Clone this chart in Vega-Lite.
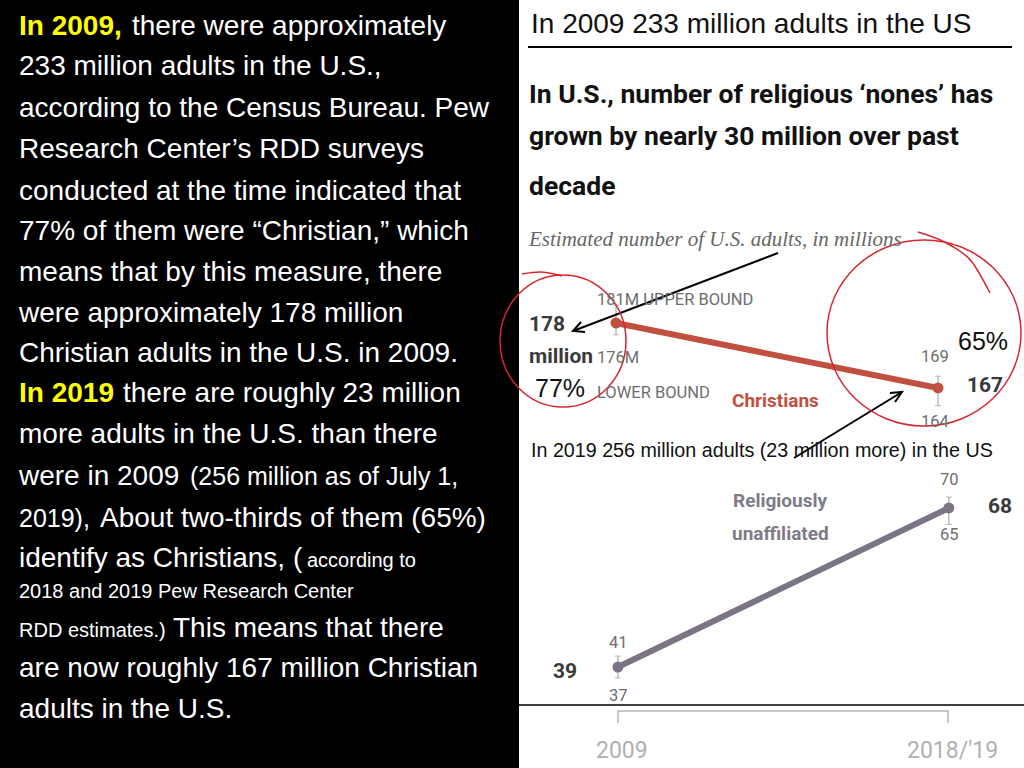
{
  "$schema": "https://vega.github.io/schema/vega-lite/v6.json",
  "width": 1024,
  "height": 768,
  "autosize": {"type": "none"},
  "padding": 0,
  "background": "white",
  "config": {"view": {"stroke": null}},
  "datasets": {
    "panels": [{"x": 0, "x2": 519, "y": 0, "y2": 768}],
    "christians": [
      {"series": "Christians", "year": 2009, "value": 178, "lo": 176, "hi": 181},
      {"series": "Christians", "year": 2019, "value": 167, "lo": 164, "hi": 169}
    ],
    "unaffiliated": [
      {"series": "Religiously unaffiliated", "year": 2009, "value": 39, "lo": 37, "hi": 41},
      {"series": "Religiously unaffiliated", "year": 2019, "value": 68, "lo": 65, "hi": 70}
    ],
    "strokes": [
      {"kind": "black2", "id": "underline", "ord": 1, "x": 528, "y": 47},
      {"kind": "black2", "id": "underline", "ord": 2, "x": 1012, "y": 47},
      {"kind": "black1", "id": "bottom", "ord": 1, "x": 518, "y": 705},
      {"kind": "black1", "id": "bottom", "ord": 2, "x": 1024, "y": 705},
      {"kind": "grey", "id": "bracket", "ord": 1, "x": 618, "y": 723},
      {"kind": "grey", "id": "bracket", "ord": 2, "x": 618, "y": 711},
      {"kind": "grey", "id": "bracket", "ord": 3, "x": 948, "y": 711},
      {"kind": "grey", "id": "bracket", "ord": 4, "x": 948, "y": 723},
      {"kind": "black2", "id": "arrow1", "ord": 1, "x": 778, "y": 253},
      {"kind": "black2", "id": "arrow1", "ord": 2, "x": 573, "y": 331},
      {"kind": "black2", "id": "head1", "ord": 1, "x": 585, "y": 332},
      {"kind": "black2", "id": "head1", "ord": 2, "x": 573, "y": 331},
      {"kind": "black2", "id": "head1", "ord": 3, "x": 581, "y": 322},
      {"kind": "black2", "id": "arrow2", "ord": 1, "x": 794, "y": 458},
      {"kind": "black2", "id": "arrow2", "ord": 2, "x": 902, "y": 392},
      {"kind": "black2", "id": "head2", "ord": 1, "x": 890, "y": 393},
      {"kind": "black2", "id": "head2", "ord": 2, "x": 902, "y": 392},
      {"kind": "black2", "id": "head2", "ord": 3, "x": 895, "y": 402},
      {"kind": "red", "id": "flick1", "ord": 1, "x": 522, "y": 274},
      {"kind": "red", "id": "flick1", "ord": 2, "x": 540, "y": 272},
      {"kind": "red", "id": "flick1", "ord": 3, "x": 562, "y": 276},
      {"kind": "red", "id": "flick2", "ord": 1, "x": 918, "y": 232},
      {"kind": "red", "id": "flick2", "ord": 2, "x": 950, "y": 245},
      {"kind": "red", "id": "flick2", "ord": 3, "x": 972, "y": 262},
      {"kind": "red", "id": "flick2", "ord": 4, "x": 990, "y": 293}
    ],
    "ellipses": [
      {"id": "left", "x": 563, "y": 341},
      {"id": "right", "x": 924, "y": 333}
    ],
    "notes": [
      {"kind": "hl", "x": 19, "y": 35, "text": "In 2009,"},
      {"kind": "body", "x": 132, "y": 35, "text": "there were approximately"},
      {"kind": "body", "x": 19, "y": 75, "text": "233 million adults in the U.S.,"},
      {"kind": "body", "x": 19, "y": 117, "text": "according to the Census Bureau. Pew"},
      {"kind": "body", "x": 19, "y": 158, "text": "Research Center’s RDD surveys"},
      {"kind": "body", "x": 19, "y": 200, "text": "conducted at the time indicated that"},
      {"kind": "body", "x": 19, "y": 240, "text": "77% of them were “Christian,” which"},
      {"kind": "body", "x": 19, "y": 281, "text": "means that by this measure, there"},
      {"kind": "body", "x": 19, "y": 322, "text": "were approximately 178 million"},
      {"kind": "body", "x": 19, "y": 362, "text": "Christian adults in the U.S. in 2009."},
      {"kind": "hl", "x": 19, "y": 402, "text": "In 2019"},
      {"kind": "body", "x": 123, "y": 402, "text": "there are roughly 23 million"},
      {"kind": "body", "x": 19, "y": 443, "text": "more adults in the U.S. than there"},
      {"kind": "body", "x": 19, "y": 485, "text": "were in 2009"},
      {"kind": "mid", "x": 190, "y": 485, "text": "(256 million as of July 1,"},
      {"kind": "mid", "x": 19, "y": 527, "text": "2019),"},
      {"kind": "body", "x": 100, "y": 527, "text": "About two-thirds of them (65%)"},
      {"kind": "body", "x": 19, "y": 567, "text": "identify as Christians, ("},
      {"kind": "small", "x": 307, "y": 567, "text": "according to"},
      {"kind": "small", "x": 19, "y": 598, "text": "2018 and 2019 Pew Research Center"},
      {"kind": "small", "x": 19, "y": 637, "text": "RDD estimates.)"},
      {"kind": "body", "x": 173, "y": 637, "text": "This means that there"},
      {"kind": "body", "x": 19, "y": 677, "text": "are now roughly 167 million Christian"},
      {"kind": "body", "x": 19, "y": 718, "text": "adults in the U.S."},
      {"kind": "header", "x": 531, "y": 33, "text": "In 2009 233 million adults in the US"},
      {"kind": "header2", "x": 531, "y": 457, "text": "In 2019 256 million adults (23 million more) in the US"},
      {"kind": "title", "x": 529, "y": 103, "text": "In U.S., number of religious ‘nones’ has"},
      {"kind": "title", "x": 529, "y": 145, "text": "grown by nearly 30 million over past"},
      {"kind": "title", "x": 529, "y": 195, "text": "decade"},
      {"kind": "subtitle", "x": 529, "y": 246, "text": "Estimated number of U.S. adults, in millions"},
      {"kind": "bound", "x": 597, "y": 305, "text": "181M UPPER BOUND"},
      {"kind": "bound", "x": 597, "y": 363, "text": "176M"},
      {"kind": "bound", "x": 597, "y": 398, "text": "LOWER BOUND"},
      {"kind": "bignum", "x": 529, "y": 331, "text": "178"},
      {"kind": "bignum", "x": 529, "y": 363, "text": "million"},
      {"kind": "bignum", "x": 967, "y": 392, "text": "167"},
      {"kind": "bignum", "x": 988, "y": 513, "text": "68"},
      {"kind": "bignum", "x": 553, "y": 678, "text": "39"},
      {"kind": "pct", "x": 535, "y": 397, "text": "77%"},
      {"kind": "pct", "x": 958, "y": 350, "text": "65%"},
      {"kind": "ci", "x": 921, "y": 362, "text": "169"},
      {"kind": "ci", "x": 921, "y": 427, "text": "164"},
      {"kind": "ci", "x": 940, "y": 485, "text": "70"},
      {"kind": "ci", "x": 940, "y": 540, "text": "65"},
      {"kind": "ci", "x": 609, "y": 648, "text": "41"},
      {"kind": "ci", "x": 609, "y": 701, "text": "37"},
      {"kind": "chr", "x": 732, "y": 407, "text": "Christians"},
      {"kind": "unaff", "x": 733, "y": 507, "text": "Religiously"},
      {"kind": "unaff", "x": 732, "y": 540, "text": "unaffiliated"},
      {"kind": "year", "x": 596, "y": 758, "text": "2009"},
      {"kind": "year", "x": 907, "y": 758, "text": "2018/'19"}
    ]
  },
  "layer": [
    {
      "data": {"name": "panels"},
      "mark": {"type": "rect", "fill": "black"},
      "encoding": {
        "x": {"field": "x", "type": "quantitative", "scale": {"domain": [0, 1024], "nice": false, "zero": false}, "axis": null},
        "x2": {"field": "x2"},
        "y": {"field": "y", "type": "quantitative", "scale": {"domain": [0, 768], "nice": false, "zero": false, "reverse": true}, "axis": null},
        "y2": {"field": "y2"}
      }
    },
    {
      "data": {"name": "christians"},
      "encoding": {
        "x": {"field": "year", "type": "quantitative", "scale": {"domain": [1989.87, 2021.67], "nice": false, "zero": false}, "axis": null}
      },
      "layer": [
        {
          "mark": {"type": "rule", "color": "#9a9a9a", "strokeWidth": 1},
          "encoding": {
            "y": {"field": "lo", "type": "quantitative", "scale": {"domain": [102.69, 232.66], "nice": false, "zero": false}, "axis": null},
            "y2": {"field": "hi"}
          }
        },
        {
          "mark": {"type": "tick", "orient": "horizontal", "color": "#9a9a9a", "size": 6, "thickness": 1},
          "encoding": {"y": {"field": "lo", "type": "quantitative", "axis": null}}
        },
        {
          "mark": {"type": "tick", "orient": "horizontal", "color": "#9a9a9a", "size": 6, "thickness": 1},
          "encoding": {"y": {"field": "hi", "type": "quantitative", "axis": null}}
        },
        {
          "mark": {"type": "line", "color": "#c0513f", "strokeWidth": 6},
          "encoding": {"y": {"field": "value", "type": "quantitative", "axis": null}}
        },
        {
          "mark": {"type": "point", "filled": true, "color": "#c0513f", "opacity": 1, "size": 120},
          "encoding": {"y": {"field": "value", "type": "quantitative", "axis": null}}
        }
      ]
    },
    {
      "data": {"name": "unaffiliated"},
      "encoding": {
        "x": {"field": "year", "type": "quantitative", "scale": {"domain": [1990.33, 2021.27], "nice": false, "zero": false}, "axis": null}
      },
      "layer": [
        {
          "mark": {"type": "rule", "color": "#9a9a9a", "strokeWidth": 1},
          "encoding": {
            "y": {"field": "lo", "type": "quantitative", "scale": {"domain": [20.58, 160.65], "nice": false, "zero": false}, "axis": null},
            "y2": {"field": "hi"}
          }
        },
        {
          "mark": {"type": "tick", "orient": "horizontal", "color": "#9a9a9a", "size": 6, "thickness": 1},
          "encoding": {"y": {"field": "lo", "type": "quantitative", "axis": null}}
        },
        {
          "mark": {"type": "tick", "orient": "horizontal", "color": "#9a9a9a", "size": 6, "thickness": 1},
          "encoding": {"y": {"field": "hi", "type": "quantitative", "axis": null}}
        },
        {
          "mark": {"type": "line", "color": "#7a7484", "strokeWidth": 6},
          "encoding": {"y": {"field": "value", "type": "quantitative", "axis": null}}
        },
        {
          "mark": {"type": "point", "filled": true, "color": "#7a7484", "opacity": 1, "size": 120},
          "encoding": {"y": {"field": "value", "type": "quantitative", "axis": null}}
        }
      ]
    },
    {
      "encoding": {
        "x": {"field": "x", "type": "quantitative", "scale": {"domain": [0, 1024], "nice": false, "zero": false}, "axis": null},
        "y": {"field": "y", "type": "quantitative", "scale": {"domain": [0, 768], "nice": false, "zero": false, "reverse": true}, "axis": null}
      },
      "layer": [
        {
          "data": {"name": "strokes"},
          "transform": [{"filter": "datum.kind === 'black2'"}],
          "mark": {"type": "line", "color": "black", "strokeWidth": 2},
          "encoding": {"detail": {"field": "id"}, "order": {"field": "ord", "type": "quantitative"}}
        },
        {
          "data": {"name": "strokes"},
          "transform": [{"filter": "datum.kind === 'black1'"}],
          "mark": {"type": "line", "color": "black", "strokeWidth": 1.5},
          "encoding": {"detail": {"field": "id"}, "order": {"field": "ord", "type": "quantitative"}}
        },
        {
          "data": {"name": "strokes"},
          "transform": [{"filter": "datum.kind === 'grey'"}],
          "mark": {"type": "line", "color": "#b5b5b5", "strokeWidth": 1.5},
          "encoding": {"detail": {"field": "id"}, "order": {"field": "ord", "type": "quantitative"}}
        },
        {
          "data": {"name": "strokes"},
          "transform": [{"filter": "datum.kind === 'red'"}],
          "mark": {"type": "line", "color": "#d8262f", "strokeWidth": 1.5, "interpolate": "monotone"},
          "encoding": {"detail": {"field": "id"}, "order": {"field": "ord", "type": "quantitative"}}
        },
        {
          "data": {"name": "ellipses"},
          "transform": [{"filter": "datum.id === 'left'"}],
          "mark": {"type": "point", "filled": false, "stroke": "#d8262f", "strokeWidth": 1.5, "opacity": 1, "size": 4,
            "shape": "M63,0 C63,36.5 34.8,66 0,66 C-34.8,66 -63,36.5 -63,0 C-63,-36.5 -34.8,-66 0,-66 C34.8,-66 63,-36.5 63,0 Z"}
        },
        {
          "data": {"name": "ellipses"},
          "transform": [{"filter": "datum.id === 'right'"}],
          "mark": {"type": "point", "filled": false, "stroke": "#d8262f", "strokeWidth": 1.5, "opacity": 1, "size": 4,
            "shape": "M97,0 C97,51.4 53.6,93 0,93 C-53.6,93 -97,51.4 -97,0 C-97,-51.4 -53.6,-93 0,-93 C53.6,-93 97,-51.4 97,0 Z"}
        },
        {
          "data": {"name": "notes"},
          "transform": [{"filter": "datum.kind === 'hl'"}],
          "mark": {"type": "text", "align": "left", "baseline": "alphabetic", "font": "Liberation Sans, Arial, sans-serif", "fontSize": 28, "fontWeight": "bold", "fill": "#ffff00"},
          "encoding": {"text": {"field": "text"}}
        },
        {
          "data": {"name": "notes"},
          "transform": [{"filter": "datum.kind === 'body'"}],
          "mark": {"type": "text", "align": "left", "baseline": "alphabetic", "font": "Liberation Sans, Arial, sans-serif", "fontSize": 28, "fill": "white"},
          "encoding": {"text": {"field": "text"}}
        },
        {
          "data": {"name": "notes"},
          "transform": [{"filter": "datum.kind === 'mid'"}],
          "mark": {"type": "text", "align": "left", "baseline": "alphabetic", "font": "Liberation Sans, Arial, sans-serif", "fontSize": 25, "fill": "white"},
          "encoding": {"text": {"field": "text"}}
        },
        {
          "data": {"name": "notes"},
          "transform": [{"filter": "datum.kind === 'small'"}],
          "mark": {"type": "text", "align": "left", "baseline": "alphabetic", "font": "Liberation Sans, Arial, sans-serif", "fontSize": 20, "fill": "white"},
          "encoding": {"text": {"field": "text"}}
        },
        {
          "data": {"name": "notes"},
          "transform": [{"filter": "datum.kind === 'header'"}],
          "mark": {"type": "text", "align": "left", "baseline": "alphabetic", "font": "Liberation Sans, Arial, sans-serif", "fontSize": 28, "fill": "#111111"},
          "encoding": {"text": {"field": "text"}}
        },
        {
          "data": {"name": "notes"},
          "transform": [{"filter": "datum.kind === 'header2'"}],
          "mark": {"type": "text", "align": "left", "baseline": "alphabetic", "font": "Liberation Sans, Arial, sans-serif", "fontSize": 19.7, "fill": "#111111"},
          "encoding": {"text": {"field": "text"}}
        },
        {
          "data": {"name": "notes"},
          "transform": [{"filter": "datum.kind === 'title'"}],
          "mark": {"type": "text", "align": "left", "baseline": "alphabetic", "font": "Roboto, sans-serif", "fontSize": 26.5, "fontWeight": "bold", "fill": "#111111"},
          "encoding": {"text": {"field": "text"}}
        },
        {
          "data": {"name": "notes"},
          "transform": [{"filter": "datum.kind === 'subtitle'"}],
          "mark": {"type": "text", "align": "left", "baseline": "alphabetic", "font": "Liberation Serif, serif", "fontSize": 21, "fontStyle": "italic", "fill": "#666666"},
          "encoding": {"text": {"field": "text"}}
        },
        {
          "data": {"name": "notes"},
          "transform": [{"filter": "datum.kind === 'bound' || datum.kind === 'ci'"}],
          "mark": {"type": "text", "align": "left", "baseline": "alphabetic", "font": "Roboto, sans-serif", "fontSize": 16.5, "fill": "#6e6e6e"},
          "encoding": {"text": {"field": "text"}}
        },
        {
          "data": {"name": "notes"},
          "transform": [{"filter": "datum.kind === 'bignum'"}],
          "mark": {"type": "text", "align": "left", "baseline": "alphabetic", "font": "Roboto, sans-serif", "fontSize": 21, "fontWeight": "bold", "fill": "#3a3a3a"},
          "encoding": {"text": {"field": "text"}}
        },
        {
          "data": {"name": "notes"},
          "transform": [{"filter": "datum.kind === 'pct'"}],
          "mark": {"type": "text", "align": "left", "baseline": "alphabetic", "font": "Liberation Sans, Arial, sans-serif", "fontSize": 25, "fill": "#111111"},
          "encoding": {"text": {"field": "text"}}
        },
        {
          "data": {"name": "notes"},
          "transform": [{"filter": "datum.kind === 'chr'"}],
          "mark": {"type": "text", "align": "left", "baseline": "alphabetic", "font": "Roboto, sans-serif", "fontSize": 19, "fontWeight": "bold", "fill": "#c0513f"},
          "encoding": {"text": {"field": "text"}}
        },
        {
          "data": {"name": "notes"},
          "transform": [{"filter": "datum.kind === 'unaff'"}],
          "mark": {"type": "text", "align": "left", "baseline": "alphabetic", "font": "Roboto, sans-serif", "fontSize": 19, "fontWeight": "bold", "fill": "#807b88"},
          "encoding": {"text": {"field": "text"}}
        },
        {
          "data": {"name": "notes"},
          "transform": [{"filter": "datum.kind === 'year'"}],
          "mark": {"type": "text", "align": "left", "baseline": "alphabetic", "font": "Roboto, sans-serif", "fontSize": 23, "fill": "#b0b0b0"},
          "encoding": {"text": {"field": "text"}}
        }
      ]
    }
  ],
  "resolve": {"scale": {"x": "independent", "y": "independent"}}
}
